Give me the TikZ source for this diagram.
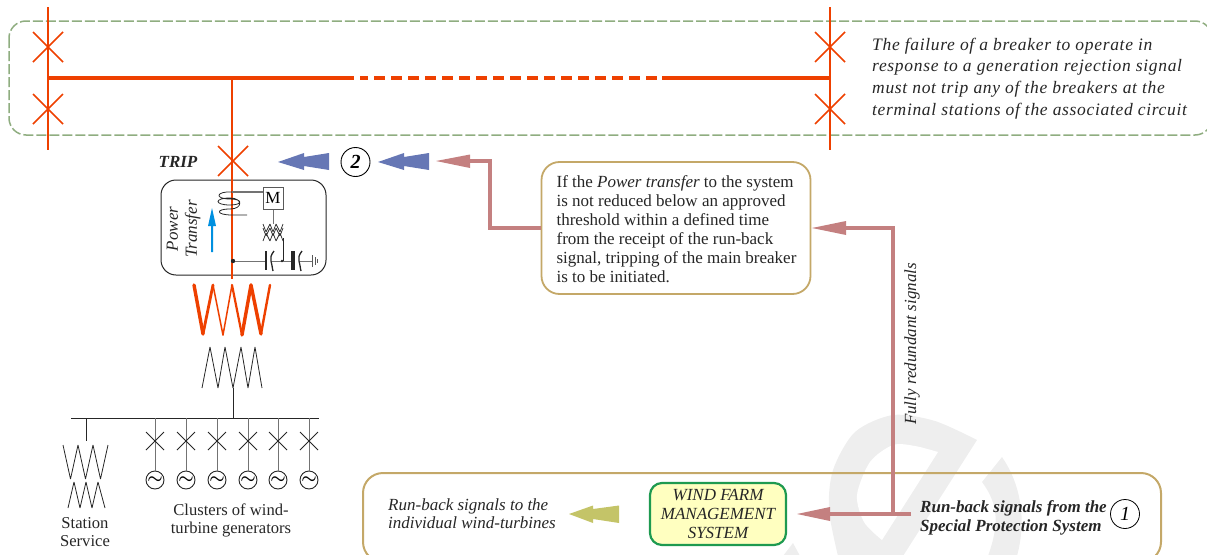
\documentclass[tikz,border=0pt]{standalone}
\usepackage{fontspec}
\setmainfont{Liberation Serif}
\definecolor{redl}{HTML}{EE4000}
\definecolor{greenl}{HTML}{8FAD80}
\definecolor{blueb}{HTML}{6677B5}
\definecolor{rosy}{HTML}{C48080}
\definecolor{tan1}{HTML}{C4A868}
\definecolor{olive1}{HTML}{C4C468}
\definecolor{wm}{HTML}{EEEEEE}
\definecolor{bluea}{HTML}{0090E0}
\definecolor{wfgreen}{HTML}{1E9A50}
\definecolor{wfyellow}{HTML}{FFFFC0}
\tikzset{
 x=1pt,y=-1pt,
 rl/.style={draw=redl,line width=2pt},
 rlthin/.style={draw=redl,line width=1.7pt},
 rlthick/.style={draw=redl,line width=4pt},
 blk/.style={draw=black!85,line width=.8pt,line join=bevel},
 gry/.style={draw=black!55,line width=1.2pt},
 signal/.style={draw=rosy,line width=4pt},
 txt/.style={align=left,anchor=west,inner sep=0pt,text=black!85},
 rm/.style={font=\fontsize{16.6}{18}\selectfont,align=center,inner sep=0pt,text=black!85},
 gen/.style={circle,draw=black!85,line width=.9pt,minimum size=18pt,inner sep=0pt,fill=white,font=\fontsize{17}{17}\selectfont\boldmath},
 num/.style={circle,draw=black,line width=.9pt,minimum size=29pt,inner sep=0pt,font=\fontsize{20}{20}\selectfont\itshape\bfseries},
}
\newcommand{\brk}[3][rlthin]{\draw[#1] (#2-15,#3-15) -- (#2+15,#3+15) (#2-15,#3+15) -- (#2+15,#3-15);}
\newcommand{\dblarrow}[3]{% tip x, y, colour
 \fill[#3] (#1,#2) -- (#1+26,#2-9) -- (#1+26,#2-5) -- (#1+51,#2-9) -- (#1+51,#2+8) -- (#1+26,#2+4) -- (#1+26,#2+8) -- cycle;}
\begin{document}
\begin{tikzpicture}
\useasboundingbox (0,0) rectangle (1207,554);
\begin{scope}
\clip (0,0) rectangle (1207,554);
% watermark
\fill[wm] plot[smooth] coordinates {(977,440) (935,421) (893,415) (855,432) (833,470) (829,510) (838,556)} -- (903,556) -- cycle;
\fill[white] plot[smooth] coordinates {(938,452) (915,446) (893,445) (870,462) (857,495) (864,522) (882,540)} -- cycle;
\fill[wm] (1002,457) .. controls (1018,480) and (1028,515) .. (1017,556) -- (988,556) .. controls (999,525) and (999,505) .. (982,482) -- cycle;
\fill[wm] (793,543) -- (783,556) -- (800,556) -- cycle;
% dashed zone
\draw[greenl,line width=1.5pt,dash pattern=on 10pt off 3pt,rounded corners=17pt] (9,21) rectangle (1212,135);
% bottom box
\draw[tan1,line width=2pt,rounded corners=20pt] (363,473) rectangle (1161,562);
\end{scope}
% bus
\coordinate (l1) at (48,7);
\coordinate (l2) at (48,150);
\coordinate (r1) at (830,7);
\coordinate (r2) at (830,150);
\coordinate (bl) at (48,78);
\coordinate (br) at (830,78);
\coordinate (bm) at (354,78);
\coordinate (bn) at (662,78);
\draw[rl] (l1) -- (l2);
\draw[rl] (r1) -- (r2);
\draw[rlthick] (bl) -- (bm);
\draw[rlthick] (bn) -- (br);
\draw[rlthick] (360,78) -- (368,78);
\draw[rlthick,dash pattern=on 11pt off 6pt] (374,78) -- (657,78);
\brk{48}{47} \brk{48}{109} \brk{830}{47} \brk{830}{109}
\brk{233}{161}
% power transfer box
\draw[black!85,rounded corners=15pt,line width=1pt] (161,180) rectangle (326,275);
\draw[rl] (232,78) -- (232,279);
% inside box
\draw[gry] (232,192) -- (263,192);
\node[draw=black!65,line width=1pt,minimum width=20pt,minimum height=22pt,inner sep=0pt,font=\fontsize{17}{17}\selectfont,fill=white] (motor) at (273,198) {M};
\draw[blk,line width=.8pt] (232,192) .. controls (216,191) and (214,199) .. (230,199)
  .. controls (243,199) and (243,205) .. (230,205)
  .. controls (214,205) and (214,198) .. (230,198)
  .. controls (243,198) and (243,209) .. (230,209)
  .. controls (215,209) and (216,215) .. (232,215) -- (247,215);
\draw[gry,line width=.9pt] (motor.south) -- (273,224);
\draw[blk,line width=.7pt] (263,224) -- (266,232) -- (270,224) -- (273,232) -- (276,224) -- (280,232) -- (283,224);
\draw[blk,line width=.7pt] (263,228) -- (266,236) -- (270,228) -- (273,236) -- (276,228) -- (280,236) -- (283,228);
\draw[blk,line width=.7pt] (263,241) -- (266,233) -- (270,241) -- (273,233) -- (276,241) -- (280,233) -- (283,241);
\draw[blk] (283,238) -- (283,262);
\draw[gry,line width=1pt] (232,261) -- (266,261);
\draw[gry,line width=1pt] (272,261) -- (291,261);
\draw[gry,line width=1pt] (300,261) -- (312,261);
\fill[black!85] (233,261) circle (2.2pt);
\fill[black!85] (282,261) circle (1.3pt);
\draw[black!85,line width=2.4pt] (266,251) -- (266,270);
\draw[black!85,line width=1.3pt] (274,251) .. controls (271,255) and (270,258) .. (271,261) .. controls (272,264) and (272,267) .. (273,271);
\draw[black!85,line width=4pt] (293,251) -- (293,270);
\draw[black!85,line width=1.3pt] (302,251) .. controls (299,255) and (298,258) .. (299,261) .. controls (300,264) and (300,267) .. (301,271);
\draw[black!65,line width=1pt] (312,255) -- (312,267);
\draw[black!65,line width=1pt] (315,257) -- (315,265);
\draw[black!65,line width=.8pt] (317,259) -- (317,263);
\fill[bluea] (211,252) -- (213,252) -- (213,226) -- (216,226) -- (212,208) -- (208,226) -- (211,226) -- cycle;
\node[rotate=90,font=\fontsize{17}{19}\selectfont\itshape,align=center,inner sep=0pt,text=black!85] (pt) at (183.5,229) {Power\\Transfer};
\node[font=\fontsize{17}{17}\selectfont\itshape\bfseries,inner sep=0pt,text=black!85] (trip) at (178,161.5) {TRIP};
% red transformer
\begin{scope}[redl,line cap=round]
\draw[line width=3.4pt] (194,285) -- (203,334);
\draw[line width=2.8pt] (203,334) -- (213,285);
\draw[line width=1.5pt] (213,285) -- (223,335);
\draw[line width=1.5pt] (223,335) -- (232,285);
\draw[line width=2.2pt] (232,285) -- (242,335);
\draw[line width=3.4pt] (242,335) -- (251,285);
\draw[line width=3.4pt] (251,285) -- (261,334);
\draw[line width=2.4pt] (261,334) -- (270,285);
\end{scope}
% black transformer
\draw[blk] (202,388) -- (210,347) -- (218,388) -- (225,347) -- (233,388) -- (241,347) -- (248,388) -- (255,347) -- (262,388);
\draw[blk] (233,388) -- (233,418);
% LV bus
\draw[blk] (71,418) -- (319,418);
\draw[blk] (86,418) -- (86,441);
\draw[blk] (63,445) -- (70.5,479) -- (78,445) -- (85.5,479) -- (93,445) -- (100.5,479) -- (108,445);
\draw[blk] (68,508) -- (74,482) -- (80,508) -- (86,482) -- (92,508) -- (98,482) -- (105,508);
\foreach \n/\xx in {a/155,b/186,c/217,d/248,e/278,f/309}{
 \node[gen] (g\n) at (\xx,480) {$\sim$};
 \draw[gry,line width=1pt] (\xx,418) -- (g\n);
 \draw[blk] (\xx-9,432) -- (\xx+9,450) (\xx-9,450) -- (\xx+9,432);
}
\node[rm] (ss) at (85,532) {Station\\Service};
\node[rm] (cl) at (231,520) {Clusters of wind-\\turbine generators};
% top text
\node[txt,font=\fontsize{17.5}{21.6}\selectfont\itshape\addfontfeature{LetterSpace=3.9}] (fail) at (872,78.5) {The failure of a breaker to operate in\\response to a generation rejection signal\\must not trip any of the breakers at the\\terminal stations of the associated circuit};
% signals
\dblarrow{278}{162}{blueb}
\node[num] (n2) at (355.5,162) {2};
\dblarrow{378}{162}{blueb}
\node[draw=tan1,line width=1.8pt,rounded corners=18pt,fill=white,minimum width=269pt,minimum height=132pt] (info) at (676,228) {};
\node[font=\fontsize{17}{19}\selectfont,align=left,inner sep=0pt,text=black!85] (infot) at (676.5,229) {If the \textit{Power transfer} to the system\\is not reduced below an approved\\threshold within a defined time\\from the receipt of the run-back\\signal, tripping of the main breaker\\is to be initiated.};
\coordinate (s3) at (490,161);
\draw[signal,line join=miter] (info.west) -- (490,228) -- (s3) -- (468,161);
\fill[rosy] (436,161) -- (470,154.5) -- (470,168) -- cycle;
\node[draw=wfgreen,line width=2.2pt,rounded corners=12pt,fill=wfyellow,minimum width=136pt,minimum height=62pt,inner sep=0pt] (wf) at (718,514) {};
\node[font=\fontsize{17}{19}\selectfont\itshape,align=center,inner sep=0pt,text=black!85] (wft) at (718,514) {WIND FARM\\MANAGEMENT\\SYSTEM};
\node[txt,font=\fontsize{17}{18.5}\selectfont\itshape] (rb) at (388,513.5) {Run-back signals to the\\individual wind-turbines};
\fill[olive1] (569,514) -- (593,505.5) -- (593,509) -- (619,505.5) -- (619,523) -- (593,519) -- (593,523) -- cycle;
\node[txt,font=\fontsize{17}{19}\selectfont\itshape\bfseries] (sp) at (920,517.5) {Run-back signals from the\\Special Protection System};
\node[num,line width=.8pt,minimum size=29pt] (n1) at (1125,514) {\mdseries 1};
\coordinate (t1) at (893,228);
\coordinate (t2) at (893,514);
\draw[signal,line join=miter] (t2) -- (t1) -- (845,228);
\fill[rosy] (812,228) -- (846,221) -- (846,235) -- cycle;
\draw[signal,line width=4.6pt] (911,514) -- (829,514);
\fill[rosy] (797,514) -- (830,507) -- (830,521) -- cycle;
\node[rotate=90,font=\fontsize{17}{17}\selectfont\itshape,inner sep=0pt,text=black!85] (fr) at (912,344) {Fully redundant signals};
\end{tikzpicture}
\end{document}
